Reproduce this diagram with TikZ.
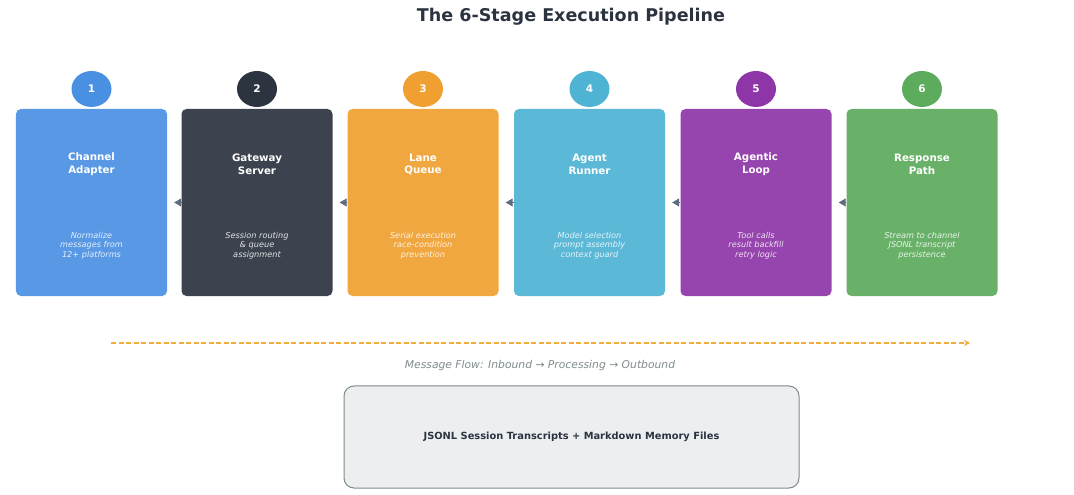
\documentclass[tikz,border=0pt]{standalone}
\usepackage{fontspec}
\setmainfont{DejaVu Sans}
\usetikzlibrary{arrows.meta,shapes.geometric}
\definecolor{c1}{HTML}{4A90E2}
\definecolor{c2}{HTML}{2C3440}
\definecolor{c3}{HTML}{F0A030}
\definecolor{c4}{HTML}{4FB3D4}
\definecolor{c5}{HTML}{8E35A8}
\definecolor{c6}{HTML}{5DAB5D}
\definecolor{titlec}{HTML}{2C3340}
\definecolor{greyc}{HTML}{7F8C8D}
\definecolor{arrowc}{HTML}{5D6D7E}
\definecolor{flowc}{HTML}{F2AE3A}
\definecolor{storefill}{HTML}{ECEEF0}
\tikzset{
  stagebox/.style={rounded corners=5bp, minimum width=151bp, minimum height=187bp, inner sep=0pt, fill opacity=0.92, text opacity=1},
  numcirc/.style={ellipse, minimum width=40bp, minimum height=36bp, inner sep=0pt, text=white, font=\fontsize{10.5}{12}\selectfont\bfseries},
  stitle/.style={text=white, align=center, font=\fontsize{10.3}{13}\selectfont\bfseries},
  sdesc/.style={text=white, text opacity=0.85, align=center, font=\fontsize{8.2}{9.6}\selectfont\itshape},
  link/.style={draw=arrowc, line width=1bp, -{Triangle[length=7bp,width=8bp]}, shorten >=7bp},
}
\begin{document}
\begin{tikzpicture}[x=1bp,y=-1bp]
\useasboundingbox (0,0) rectangle (1074,495);
\fill[white] (0,0) rectangle (1074,495);
\node[text=titlec, font=\fontsize{17.6}{20}\selectfont\bfseries] (title) at (571,17) {The 6-Stage Execution Pipeline};
% stage boxes
\foreach \i/\cx/\col/\ta/\tb/\da/\db/\dc in {
 1/91.5/c1/Channel/Adapter/Normalize/messages from/12+ platforms,
 2/257/c2/Gateway/Server/Session routing/\& queue/assignment,
 3/423/c3/Lane/Queue/Serial execution/race-condition/prevention,
 4/589.5/c4/Agent/Runner/Model selection/prompt assembly/context guard,
 5/756/c5/Agentic/Loop/Tool calls/result backfill/retry logic,
 6/922/c6/Response/Path/Stream to channel/JSONL transcript/persistence}{
  \node[stagebox, fill=\col] (b\i) at (\cx,202.5) {};
  \node[numcirc, fill=\col] (n\i) at (\cx,89) {\i};
  \node[stitle] (t\i) at (\cx,164.5) {\ta\\\tb};
  \node[sdesc] (d\i) at (\cx,245.5) {\da\\\db\\\dc};
}
\draw[link] (b2.west) -- (b1.east);
\draw[link] (b3.west) -- (b2.east);
\draw[link] (b4.west) -- (b3.east);
\draw[link] (b5.west) -- (b4.east);
\draw[link] (b6.west) -- (b5.east);
% flow arrow
\coordinate (fs) at (111,343);
\coordinate (fe) at (970,343);
\draw[flowc, line width=1.3bp, dash pattern=on 5bp off 2.5bp, -{Stealth[length=6bp,width=6bp]}] (fs) -- (fe);
\node[text=greyc, font=\fontsize{10.8}{12}\selectfont\itshape] (flow) at (540,366) {Message Flow: Inbound → Processing → Outbound};
% storage box
\node[draw=greyc, line width=1bp, fill=storefill, rounded corners=10bp, minimum width=455bp, minimum height=102bp, text=titlec, font=\fontsize{9.9}{11}\selectfont\bfseries] (store) at (571.5,437) {JSONL Session Transcripts + Markdown Memory Files};
\end{tikzpicture}
\end{document}
